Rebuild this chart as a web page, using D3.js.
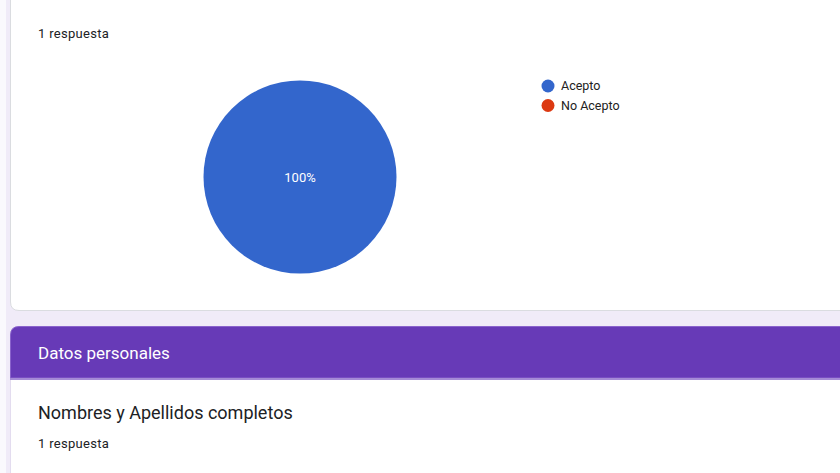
<!DOCTYPE html>
<html><head><meta charset="utf-8">
<script src="https://cdn.jsdelivr.net/npm/d3@7/dist/d3.min.js"></script>
<style>html,body{margin:0;padding:0;background:#fff;overflow:hidden}</style>
</head><body><svg id="c" width="840" height="473"></svg>
<script>
const categories = ["Acepto", "No Acepto"];
const values = [1, 0];
const colors = ["#3366cc", "#dc3912"];
const responseLabel = "1 respuesta";
const sectionTitle = "Datos personales";
const nextQuestion = "Nombres y Apellidos completos";

const svg = d3.select("#c");
const font = "Roboto, Arial, sans-serif";

// page background
svg.append("rect").attr("x",0).attr("y",0).attr("width",840).attr("height",473).attr("fill","#faf9fd");
svg.append("rect").attr("x",6).attr("y",0).attr("width",834).attr("height",473).attr("fill","#f0ebf8");

// top card
svg.append("path").attr("d","M10.5,-10 L10.5,302 Q10.5,310.5 19,310.5 L850,310.5 L850,-10 Z")
  .attr("fill","#fff").attr("stroke","#dadce0").attr("stroke-width",1);

// section header
svg.append("path").attr("d","M10.5,378 L10.5,335 Q10.5,326.5 19,326.5 L850,326.5 L850,378 Z")
  .attr("fill","#673ab7").attr("stroke","#8a63cc").attr("stroke-width",1);
svg.append("rect").attr("x",10).attr("y",378).attr("width",840).attr("height",2).attr("fill","#a58bd6");
svg.append("rect").attr("x",11).attr("y",380).attr("width",840).attr("height",100).attr("fill","#fff");
svg.append("rect").attr("x",10).attr("y",380).attr("width",1).attr("height",100).attr("fill","#e3dcef");

function resp(y){
  svg.append("text").attr("x",38).attr("y",y).attr("font-family",font).attr("font-size",13)
    .attr("letter-spacing",0.3).attr("fill","#202124").text(responseLabel);
}
resp(38);

// pie
const pie = d3.pie().sort(null).value(d=>d)(values);
const arc = d3.arc().innerRadius(0).outerRadius(96.5);
const g = svg.append("g").attr("transform","translate(300,177)");
g.selectAll("path").data(pie).enter().append("path")
  .attr("d",arc).attr("fill",(d,i)=>colors[i]);
const total = d3.sum(values);
g.selectAll("text").data(pie.filter(d=>d.value>0)).enter().append("text")
  .attr("transform",d=> (d.endAngle-d.startAngle)>=2*Math.PI-1e-6 ? "translate(0,0)" : `translate(${arc.centroid(d)})`)
  .attr("text-anchor","middle").attr("dy","0.35em")
  .attr("font-family",font).attr("font-size",13).attr("fill","#fff")
  .text(d=>Math.round(d.value/total*100)+"%");

// legend
const lg = svg.append("g").attr("transform","translate(548,86)");
const item = lg.selectAll("g").data(categories).enter().append("g")
  .attr("transform",(d,i)=>`translate(0,${i*19.5})`);
item.append("circle").attr("r",6.5).attr("fill",(d,i)=>colors[i]);
item.append("text").attr("x",13).attr("dy","0.35em").attr("font-family",font)
  .attr("font-size",12.5).attr("fill","#222").text(d=>d);

svg.append("text").attr("x",38).attr("y",359).attr("font-family",font).attr("font-size",17)
  .attr("fill","#fff").text(sectionTitle);
svg.append("text").attr("x",38).attr("y",419).attr("font-family",font).attr("font-size",18)
  .attr("fill","#202124").text(nextQuestion);
resp(448);
</script></body></html>
